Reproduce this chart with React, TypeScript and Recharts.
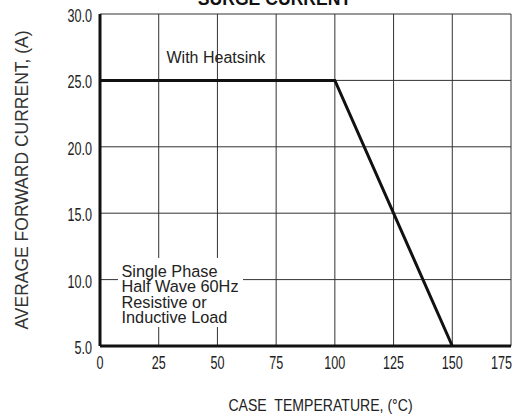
import React from 'react';
import { LineChart, Line, XAxis, YAxis, CartesianGrid, Customized } from 'recharts';

// Derating curve: case temperature (°C) vs. average forward current (A)
const caseTemperature = [0, 100, 150];
const forwardCurrent = [25, 25, 5];
const xTicks = [0, 25, 50, 75, 100, 125, 150, 175];
const yTicks = [5, 10, 15, 20, 25, 30];

const title = 'SURGE CURRENT';
const xLabel = 'CASE  TEMPERATURE, (°C)';
const yLabel = 'AVERAGE FORWARD CURRENT, (A)';
const heatsinkNote = 'With Heatsink';
const conditionLines = ['Single Phase', 'Half Wave 60Hz', 'Resistive or', 'Inductive Load'];

const data = caseTemperature.map((t, i) => ({ t, a: forwardCurrent[i] }));

const FONT = '"Liberation Sans", Arial, sans-serif';
const TEXT = '#222';

const XTick = (props: any) => {
  const { x, y, payload } = props;
  const last = payload.value === xTicks[xTicks.length - 1];
  return (
    <text
      transform={`translate(${last ? x + 1 : x},${y}) scale(0.7,1)`}
      textAnchor={last ? 'end' : 'middle'}
      dy="0.71em"
      fontFamily={FONT}
      fontSize={18}
      fill={TEXT}
    >
      {String(payload.value)}
    </text>
  );
};

const YTick = (props: any) => {
  const { x, y, payload } = props;
  return (
    <text
      transform={`translate(${x},${y + 1.5}) scale(0.7,1)`}
      textAnchor="end"
      dy="0.36em"
      fontFamily={FONT}
      fontSize={18}
      fill={TEXT}
    >
      {Number(payload.value).toFixed(1)}
    </text>
  );
};

const Annotations = () => (
  <g>
    <text x={274.5} y={5} textAnchor="middle" fontFamily={FONT} fontWeight="bold" fontSize={17.6} fill="#111">
      {title}
    </text>
    <text x={166.5} y={63} fontFamily={FONT} fontSize={16} fill={TEXT}>
      {heatsinkNote}
    </text>
    <rect x={118} y={258} width={125} height={69} fill="#fff" />
    {conditionLines.map((line, i) => (
      <text key={line} x={121.5} y={276.8 + i * 15.5} fontFamily={FONT} fontSize={16.3} fill={TEXT}>
        {line}
      </text>
    ))}
    <text
      transform="translate(320.5,410.7) scale(0.88,1)"
      textAnchor="middle"
      fontFamily={FONT}
      fontSize={16}
      fill={TEXT}
      style={{ whiteSpace: 'pre' }}
    >
      {xLabel}
    </text>
    <text
      transform="translate(28,180) rotate(-90)"
      textAnchor="middle"
      fontFamily={FONT}
      fontSize={17.5}
      fill="#333"
    >
      {yLabel}
    </text>
  </g>
);

export default function App() {
  return (
    <div style={{ position: 'absolute', left: 0, top: 0, width: 522, height: 418, background: '#fff' }}>
      <LineChart
        width={522}
        height={418}
        data={data}
        margin={{ top: 14, right: 11, bottom: 0, left: 0 }}
      >
        <CartesianGrid stroke="#333" strokeWidth={1} />
        <XAxis
          type="number"
          dataKey="t"
          domain={[0, 175]}
          ticks={xTicks}
          interval={0}
          height={72}
          tickSize={0}
          tickMargin={10}
          tickLine={false}
          axisLine={{ stroke: '#111', strokeWidth: 3 }}
          tick={<XTick />}
        />
        <YAxis
          type="number"
          domain={[5, 30]}
          ticks={yTicks}
          interval={0}
          width={100}
          tickSize={0}
          tickMargin={8}
          tickLine={false}
          axisLine={{ stroke: '#111', strokeWidth: 3 }}
          tick={<YTick />}
        />
        <Customized component={<Annotations />} />
        <Line
          type="linear"
          dataKey="a"
          stroke="#111"
          strokeWidth={3}
          dot={false}
          isAnimationActive={false}
        />
      </LineChart>
    </div>
  );
}
